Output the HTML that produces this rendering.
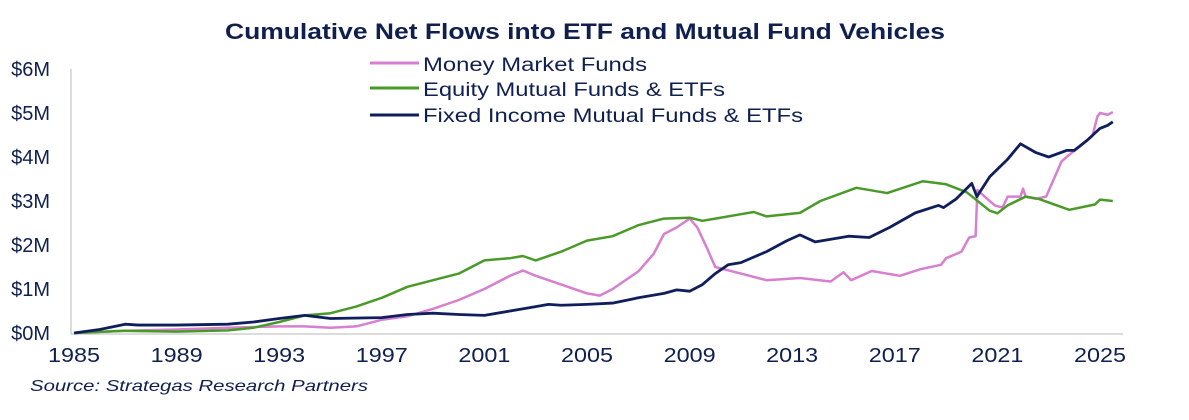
<!DOCTYPE html>
<html><head><meta charset="utf-8"><style>
body{margin:0;background:#fff;}
svg{display:block;font-family:"Liberation Sans",Arial,sans-serif;}
</style></head><body>
<svg width="1189" height="420" viewBox="0 0 1189 420">
<text x="225" y="39" font-size="22" font-weight="bold" fill="#0f1f4f" textLength="720" lengthAdjust="spacingAndGlyphs">Cumulative Net Flows into ETF and Mutual Fund Vehicles</text>
<g fill="#0f1f4f" font-size="20" text-anchor="end">
<text x="50" y="76">$6M</text><text x="50" y="120">$5M</text><text x="50" y="164">$4M</text>
<text x="50" y="208">$3M</text><text x="50" y="252">$2M</text><text x="50" y="296">$1M</text><text x="50" y="340">$0M</text>
</g>
<line x1="71" y1="69" x2="71" y2="334" stroke="#d0d0d0" stroke-width="1.5"/>
<line x1="71" y1="334" x2="1123" y2="334" stroke="#d0d0d0" stroke-width="1.5"/>
<g fill="#0f1f4f" font-size="20">
<text x="48" y="362" textLength="52" lengthAdjust="spacingAndGlyphs">1985</text>
<text x="150.6" y="362" textLength="52" lengthAdjust="spacingAndGlyphs">1989</text>
<text x="253.2" y="362" textLength="52" lengthAdjust="spacingAndGlyphs">1993</text>
<text x="355.8" y="362" textLength="52" lengthAdjust="spacingAndGlyphs">1997</text>
<text x="458.4" y="362" textLength="52" lengthAdjust="spacingAndGlyphs">2001</text>
<text x="561" y="362" textLength="52" lengthAdjust="spacingAndGlyphs">2005</text>
<text x="663.6" y="362" textLength="52" lengthAdjust="spacingAndGlyphs">2009</text>
<text x="766.2" y="362" textLength="52" lengthAdjust="spacingAndGlyphs">2013</text>
<text x="868.8" y="362" textLength="52" lengthAdjust="spacingAndGlyphs">2017</text>
<text x="971.4" y="362" textLength="52" lengthAdjust="spacingAndGlyphs">2021</text>
<text x="1074" y="362" textLength="52" lengthAdjust="spacingAndGlyphs">2025</text>
</g>
<text x="30" y="391" font-size="16" font-style="italic" fill="#0f1f4f" textLength="338" lengthAdjust="spacingAndGlyphs">Source:  Strategas Research Partners</text>
<g font-size="19" fill="#0f1f4f">
<line x1="370" y1="63" x2="419" y2="63" stroke="#d77fd0" stroke-width="3"/><text x="423" y="71" textLength="224" lengthAdjust="spacingAndGlyphs">Money Market Funds</text>
<line x1="370" y1="88" x2="419" y2="88" stroke="#4a9a2a" stroke-width="3"/><text x="423" y="96" textLength="302" lengthAdjust="spacingAndGlyphs">Equity Mutual Funds &amp; ETFs</text>
<line x1="370" y1="115" x2="419" y2="115" stroke="#0f1f5c" stroke-width="3"/><text x="423" y="122" textLength="380" lengthAdjust="spacingAndGlyphs">Fixed Income Mutual Funds &amp; ETFs</text>
</g>
<g transform="translate(74,333) scale(25.65,-44)" fill="none" stroke-linejoin="round">
<polyline vector-effect="non-scaling-stroke" stroke="#d77fd0" stroke-width="2.5" points="0,0 2,0.05 4,0.08 6,0.12 8,0.15 9,0.15 10,0.12 11,0.15 12,0.3 13,0.38 14,0.55 15,0.75 16,1.0 17,1.3 17.5,1.42 18,1.3 19,1.1 20,0.9 20.5,0.85 21,1.0 22,1.4 22.6,1.8 23,2.25 23.5,2.4 24,2.6 24.3,2.4 24.7,1.9 25,1.5 26,1.35 27,1.2 28.3,1.25 29.5,1.17 30,1.38 30.3,1.2 31.1,1.41 32.2,1.3 33,1.45 33.8,1.55 34,1.7 34.6,1.85 34.9,2.17 35.15,2.2 35.22,3.25 35.5,3.1 35.9,2.9 36.2,2.85 36.4,3.1 36.9,3.1 37,3.28 37.1,3.1 37.5,3.05 37.9,3.1 38.3,3.63 38.5,3.9 38.8,4.05 39.3,4.28 39.7,4.47 39.9,4.92 40,5.0 40.3,4.96 40.5,5.02"/>
<polyline vector-effect="non-scaling-stroke" stroke="#4a9a2a" stroke-width="2.5" points="0,0 2,0.05 4,0.03 6,0.06 7,0.12 8,0.25 9,0.4 10,0.45 11,0.6 12,0.8 13,1.05 14,1.2 15,1.35 15.5,1.5 16,1.65 17,1.7 17.5,1.75 18,1.65 19,1.85 20,2.1 21,2.2 22,2.45 23,2.6 24,2.62 24.5,2.55 25,2.6 26,2.7 26.5,2.75 27,2.65 28.3,2.73 29.1,3.0 30.5,3.3 31.7,3.18 33.1,3.45 34,3.38 34.8,3.2 35.7,2.78 36,2.72 36.4,2.9 37.1,3.1 37.6,3.05 38.8,2.8 39.8,2.92 40,3.03 40.5,3.0"/>
<polyline vector-effect="non-scaling-stroke" stroke="#0f1f5c" stroke-width="2.8" points="0,0 1,0.08 2,0.2 2.5,0.18 4,0.18 6,0.2 7,0.25 8,0.33 9,0.4 10,0.33 12,0.35 13,0.42 14,0.45 15,0.42 16,0.4 17,0.5 18,0.6 18.5,0.65 19,0.63 20,0.65 21,0.68 22,0.8 23,0.9 23.5,0.98 24,0.95 24.5,1.1 25,1.35 25.5,1.55 26,1.6 27,1.85 27.8,2.1 28.3,2.23 28.9,2.07 30.2,2.2 31,2.17 31.8,2.4 32.8,2.73 33.7,2.9 33.9,2.85 34.4,3.05 35,3.4 35.2,3.1 35.7,3.55 36.4,3.95 36.9,4.3 37.5,4.1 38,4.0 38.7,4.15 39,4.15 39.5,4.38 40,4.65 40.3,4.72 40.5,4.8"/>
</g>
</svg>
</body></html>
